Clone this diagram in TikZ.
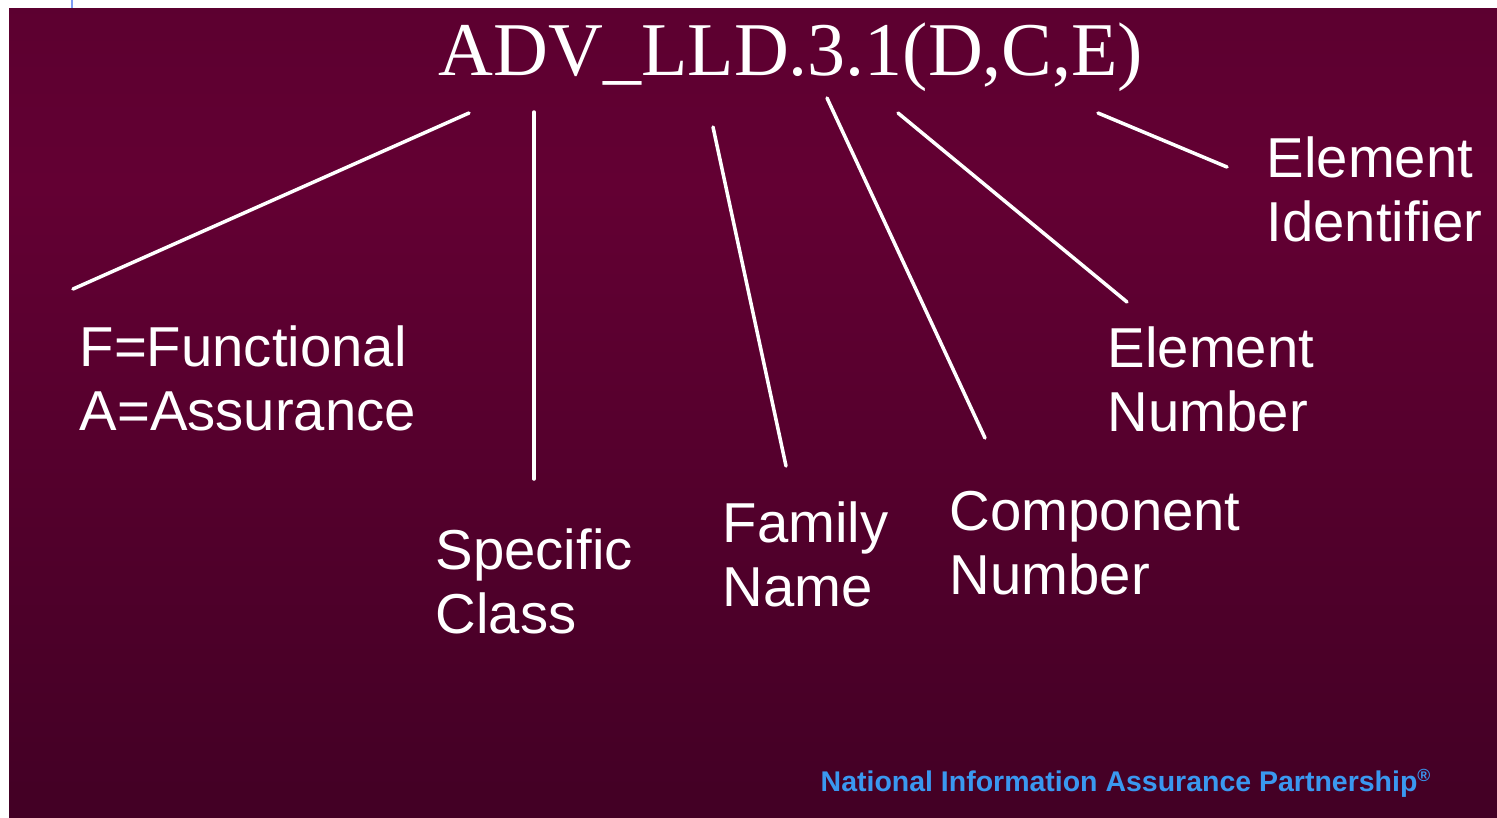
\documentclass[tikz,border=0pt]{standalone}
\usepackage{fontspec}
\setmainfont{Liberation Serif}
\newfontfamily\labelfont{Liberation Sans}
\definecolor{bgtop}{HTML}{4D0028}
\definecolor{bgmid}{HTML}{630033}
\definecolor{bgbot}{HTML}{380020}
\definecolor{niapblue}{HTML}{3A98F0}
\definecolor{tickblue}{HTML}{7F9CF5}
\pgfdeclareverticalshading{slidebg}{100bp}{%
  color(0bp)=(bgbot); color(20bp)=(bgbot!85!bgmid); color(64bp)=(bgmid); color(100bp)=(bgtop)}
\begin{document}
\begin{tikzpicture}[x=0.01cm,y=-0.01cm,
  % multi-line labels: the base anchor sits on the last line
  part/.style={inner sep=0pt,anchor=base west,align=left,text=white,
    font=\labelfont\fontsize{16}{18.2}\selectfont},
  pointer/.style={draw=white,line width=1pt,line cap=round}]
  \useasboundingbox (0,0) rectangle (1497,817);
  % page margin and slide background
  \fill[white] (0,0) rectangle (1497,817);
  \draw[tickblue,line width=0.6pt] (72,0) -- (72,8);
  \shade[shading=slidebg] (9,8) rectangle (1497,817);

  % requirement identifier
  \node[inner sep=0pt,anchor=base,text=white,font=\fontsize{21.6}{24}\selectfont]
    (title) at (791,75) {ADV\_LLD.3.1(D,C,E)};

  % explained parts
  \node[part] (cls)  at (79,430)   {F=Functional\\A=Assurance};
  \node[part] (spec) at (435,633)  {Specific\\Class};
  \node[part] (fam)  at (722,606)  {Family\\Name};
  \node[part] (comp) at (949,594)  {Component\\Number};
  \node[part] (elno) at (1107,431) {Element\\Number};
  \node[part] (elid) at (1266,241) {Element\\Identifier};

  % pointer ends
  \coordinate (c1a) at (469,113);  \coordinate (c1b) at (73,289);
  \coordinate (c2a) at (534,112);  \coordinate (c2b) at (534,479);
  \coordinate (c3a) at (713,127);  \coordinate (c3b) at (786,466);
  \coordinate (c4a) at (827,98);   \coordinate (c4b) at (985,438);
  \coordinate (c5a) at (898,113);  \coordinate (c5b) at (1127,302);
  \coordinate (c6a) at (1098,113); \coordinate (c6b) at (1227,167);

  \draw[pointer] (c1a) -- (c1b);
  \draw[pointer] (c2a) -- (c2b);
  \draw[pointer] (c3a) -- (c3b);
  \draw[pointer] (c4a) -- (c4b);
  \draw[pointer] (c5a) -- (c5b);
  \draw[pointer] (c6a) -- (c6b);

  % footer
  \node[inner sep=0pt,anchor=base west,text=niapblue,
    font=\labelfont\bfseries\fontsize{8.1}{10}\selectfont]
    (niap) at (820,791) {National Information Assurance Partnership\textsuperscript{\tiny®}};
\end{tikzpicture}
\end{document}
